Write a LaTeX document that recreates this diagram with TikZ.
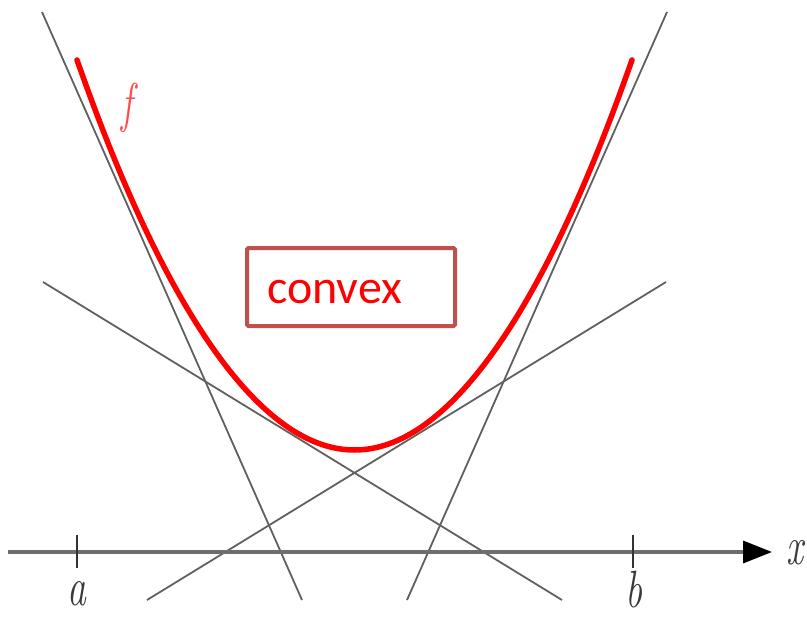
\documentclass[tikz,border=0pt]{standalone}
\usepackage{fontspec}
\newfontfamily\calib{Carlito}
\usetikzlibrary{arrows.meta}
\definecolor{boxred}{HTML}{C0504D}
\definecolor{lngray}{HTML}{606060}
\definecolor{axgray}{HTML}{6E6E6E}
\definecolor{lblgray}{HTML}{3A3A3A}
\begin{document}
\begin{tikzpicture}[x=1pt,y=-1pt,
  tangentline/.style={draw=lngray, line width=1.8pt},
  axisline/.style={draw=axgray, line width=3.5pt, -{Triangle[length=29pt,width=22pt,color=black]}},
  tickline/.style={draw=black!80, line width=2pt},
  curve/.style={draw=red, line width=5.5pt},
  mathlbl/.style={font=\fontsize{42}{42}\selectfont\itshape, inner sep=0pt, text=lblgray},
  boxlbl/.style={draw=boxred, line width=4pt, rounded corners=1.5pt, minimum width=208pt, minimum height=78pt, inner sep=0pt}
]
\useasboundingbox (0,0) rectangle (807,618);
% tangent lines
\coordinate (l1a) at (42,12);  \coordinate (l1b) at (302,600);
\coordinate (l2a) at (667,12); \coordinate (l2b) at (407,600);
\coordinate (l3a) at (43,282); \coordinate (l3b) at (562,600);
\coordinate (l4a) at (666,282); \coordinate (l4b) at (147,600);
\draw[tangentline] (l1a) -- (l1b);
\draw[tangentline] (l2a) -- (l2b);
\draw[tangentline] (l3a) -- (l3b);
\draw[tangentline] (l4a) -- (l4b);
% axis
\coordinate (ax0) at (8,552);
\coordinate (ax1) at (772,552);
\draw[axisline] (ax0) -- (ax1);
\coordinate (ta0) at (77,535); \coordinate (ta1) at (77,568);
\coordinate (tb0) at (633,535); \coordinate (tb1) at (633,568);
\draw[tickline] (ta0) -- (ta1);
\draw[tickline] (tb0) -- (tb1);
% convex function
\coordinate (cL) at (77,60);
\coordinate (cV) at (354.5,450);
\coordinate (cR) at (632,60);
\draw[curve, line cap=round] (cL) parabola bend (cV) (cR);
% labels
\node[mathlbl, text=red!70] (flbl) at (127,108) {\scalebox{0.9}[1.3]{f}};
\node[mathlbl] (albl) at (77,594) {\scalebox{0.9}[1.3]{a}};
\node[mathlbl] (blbl) at (634,590) {\scalebox{0.9}[1.25]{b}};
\node[mathlbl] (xlbl) at (795,553) {\scalebox{0.9}[1.3]{x}};
\node[boxlbl] (cbox) at (351,287) {};
\node[anchor=base west, inner sep=0pt, text=red, font=\calib\fontsize{48}{48}\selectfont] (ctext) at (267,303) {convex};
\end{tikzpicture}
\end{document}
